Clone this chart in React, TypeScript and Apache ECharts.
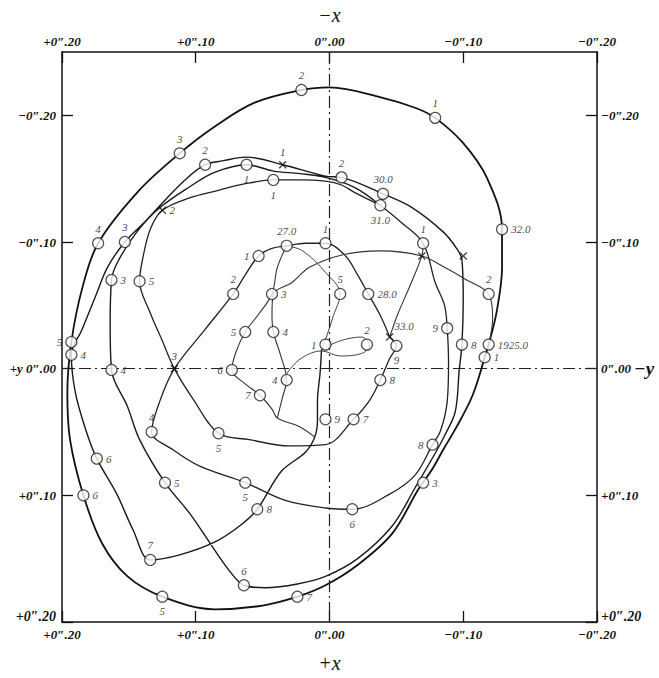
import React, { useEffect, useRef } from 'react';
import * as echarts from 'echarts';

// All path values in thousandths of a second of arc: [x, y]
const outerLoop = [
  [-116, -9], [-119, -19], [-125, -45], [-129, -80], [-129, -110], [-118, -150], [-100, -178], [-79, -198],
  [-64, -206], [-39, -214], [0, -222], [21, -220], [56, -210], [86, -191], [112, -170], [143, -140],
  [173, -99], [185, -63], [193, -21], [196, 19], [194, 56], [184, 100], [170, 138], [151, 164],
  [125, 180], [86, 190], [50, 187], [24, 180], [3, 171], [-21, 155], [-47, 130], [-66, 96],
  [-77, 79], [-85, 64], [-95, 46], [-107, 21], [-116, -9],
];

const secondLoop = [
  [-38, -129], [-19, -143], [3, -151], [22, -154], [42, -156], [62, -161], [86, -155], [104, -144],
  [127, -127], [144, -108], [158, -85], [163, -70], [164, -34], [163, 1], [151, 30], [142, 56],
  [123, 90], [104, 115], [86, 143], [73, 162], [64, 171], [48, 173], [24, 170], [3, 164],
  [-21, 150], [-47, 124], [-64, 94], [-80, 65], [-86, 53], [-94, 34], [-97, 1], [-99, -19],
  [-100, -55], [-99, -86], [-95, -95], [-85, -108], [-62, -127], [-40, -138], [-9, -151], [3, -152],
  [35, -161], [62, -167], [80, -164], [93, -161], [108, -149], [123, -133], [138, -116], [153, -100],
  [166, -80], [175, -57], [185, -31], [193, -11], [190, 19], [182, 49], [174, 71], [159, 99],
  [147, 127], [134, 151], [112, 147], [86, 137], [67, 124], [54, 111], [36, 81], [18, 66],
  [11, 54], [9, 41], [9, 26], [7, 3], [6, -15],
];

const thirdLoop = [
  [-38, -129], [-19, -139], [-9, -145], [3, -148], [22, -149], [42, -149], [63, -146], [86, -140],
  [104, -135], [125, -125], [134, -110], [140, -85], [142, -69], [134, -44], [125, -22], [116, 0],
  [102, 24], [83, 51], [60, 56], [30, 61], [3, 60], [-18, 40], [-30, 25], [-38, 9],
  [-45, -8], [-50, -18], [-45, -25],
];

const innerLoop = [
  [-38, -129], [-53, -116], [-70, -99], [-79, -68], [-86, -50], [-88, -32], [-89, -4], [-88, 26],
  [-83, 49], [-77, 60], [-64, 84], [-45, 99], [-17, 111], [3, 110], [33, 104], [63, 90],
  [97, 77], [117, 64], [133, 50], [127, 26], [116, 0], [93, -31], [72, -59], [63, -74],
  [53, -89], [43, -95], [32, -97], [18, -99], [3, -99], [-12, -89], [-21, -74], [-29, -59],
  [-38, -42], [-45, -25],
];

const crossArc = [
  [-119, -19], [-122, -40], [-119, -59], [-101, -71], [-86, -80], [-69, -89], [-38, -93], [-10, -90],
  [15, -80], [28, -68], [42, -59], [43, -43], [42, -29], [37, -12], [32, 9], [35, 22], [39, 39],
];

const linkTo33 = [[-70, -99], [-69, -89], [-60, -65], [-51, -43], [-45, -25]];

const centreLoop = [
  [32, -97], [20, -93], [3, -76], [-8, -59], [-3, -42], [3, -23], [6, -15], [-8, -22],
  [-24, -25], [-30, -18], [-24, -12], [-8, -10], [6, -14], [20, -9], [30, 1], [35, 11],
];

const leftInnerLoop = [
  [32, -97], [39, -80], [43, -59], [53, -43], [63, -29], [70, -13], [73, 1], [63, 12],
  [52, 21], [43, 32], [39, 39], [22, 46], [11, 54],
];

// Ringed epoch points, with their tenth-of-year / year labels
const ringPoints = [
  [-129, -110], [-79, -198], [21, -220], [112, -170], [173, -99], [193, -21], [193, -11], [184, 100],
  [125, 180], [24, 180], [174, 71], [134, 151], [64, 171], [123, 90], [163, 1], [163, -70],
  [142, -69], [153, -100], [93, -161], [62, -161], [42, -149], [-9, -151], [-40, -138], [-38, -129],
  [133, 50], [83, 51], [53, -89], [32, -97], [3, -99], [72, -59], [43, -59], [63, -29],
  [42, -29], [73, 1], [52, 21], [32, 9], [-8, -59], [-29, -59], [63, 90], [54, 111],
  [-17, 111], [3, 40], [-18, 40], [-38, 9], [-50, -18], [-88, -32], [-99, -19], [-119, -19],
  [-116, -9], [-119, -59], [-77, 60], [-70, 90], [3, -19], [-28, -19], [-70, -99],
];
const ringLabels = [
  '32.0', '1', '2', '3', '4', '5', '4', '6',
  '5', '7', '6', '7', '6', '5', '4', '3',
  '5', '3', '2', '1', '1', '2', '30.0', '31.0',
  '4', '5', '1', '27.0', '1', '2', '3', '5',
  '4', '6', '7', '4', '5', '28.0', '5', '8',
  '6', '9', '7', '8', '9', '9', '8', '1925.0',
  '1', '2', '8', '3', '1', '2', '1',
];
const ringLabelSide = [
  'right', 'top', 'top', 'top', 'top', 'left', 'right', 'right',
  'bottom', 'right', 'right', 'top', 'top', 'right', 'right', 'right',
  'right', 'top', 'top', 'bottom', 'bottom', 'top', 'top', 'bottom',
  'top', 'bottom', 'left', 'top', 'top', 'top', 'right', 'left',
  'right', 'left', 'left', 'left', 'top', 'right', 'bottom', 'right',
  'bottom', 'right', 'right', 'right', 'bottom', 'left', 'right', 'right',
  'right', 'top', 'left', 'right', 'left', 'top', 'top',
];

// Epochs marked by a cross stroke only
const crossPoints = [[35, -161], [116, 0], [125, -125], [-69, -89], [-100, -89], [-45, -25]];
const crossLabels = ['1', '3', '2', '', '', '33.0'];
const crossLabelSide = ['top', 'top', 'right', 'top', 'top', 'insideBottomLeft'];

// Axis ticks
const xTicks = [0.2, 0.1, 0, -0.1, -0.2];
const xTickLabels = ['+0″.20', '+0″.10', '0″.00', '−0″.10', '−0″.20'];
const yTicks = [-0.2, -0.1, 0, 0.1, 0.2];
const yLeftLabels = ['−0″.20', '−0″.10', '+y 0″.00', '+0″.10', '{c|+0″.20}'];
const yRightLabels = ['−0″.20', '−0″.10', '0″.00 {b|−y}', '+0″.10', '{c|+0″.20}'];

const SERIF = '"Liberation Serif", "DejaVu Serif", serif';
const toArc = (arr: number[][]) => arr.map(([x, y]) => [x / 1000, y / 1000]);
const pick = (ticks: number[], labels: string[]) => (v: number) => {
  const i = ticks.findIndex((t) => Math.abs(t - v) < 1e-6);
  return i >= 0 ? labels[i] : '';
};

const labelFont = {
  fontFamily: SERIF,
  fontStyle: 'italic' as const,
  fontSize: 13,
  color: '#111',
  fontWeight: 'bold' as const,
};
const richAxis = {
  b: { fontFamily: SERIF, fontStyle: 'italic', fontWeight: 'bold', fontSize: 19, color: '#111' },
  c: { fontFamily: SERIF, fontStyle: 'italic', fontWeight: 'bold', fontSize: 14, color: '#111', padding: [0, 0, 12, 0] },
};

export default function App() {
  const ref = useRef<HTMLDivElement>(null);
  useEffect(() => {
    if (!ref.current) return;
    const chart = echarts.init(ref.current, undefined, { renderer: 'svg' });
    const paths = [
      { data: outerLoop, width: 1.8, color: '#111' },
      { data: secondLoop, width: 1.4, color: '#1a1a1a' },
      { data: thirdLoop, width: 1.3, color: '#222' },
      { data: innerLoop, width: 1.3, color: '#222' },
      { data: crossArc, width: 1.1, color: '#333' },
      { data: linkTo33, width: 1.1, color: '#333' },
      { data: centreLoop, width: 1, color: '#444' },
      { data: leftInnerLoop, width: 1.1, color: '#333' },
    ];
    const lineSeries: any[] = paths.map((p, i) => ({
      type: 'line',
      data: toArc(p.data),
      smooth: 0.35,
      showSymbol: false,
      symbol: 'none',
      lineStyle: { width: p.width, color: p.color },
      z: 3,
      ...(i === 0
        ? {
            markLine: {
              silent: true,
              symbol: 'none',
              label: { show: false },
              lineStyle: { color: '#222', width: 1.2, type: [12, 4, 2, 4] },
              data: [{ xAxis: 0 }, { yAxis: 0 }],
            },
          }
        : {}),
    }));

    const pointLabel = {
      show: true,
      fontFamily: SERIF,
      fontStyle: 'italic',
      fontSize: 11,
      color: '#111',
      distance: 3,
    };

    const axisCommon = {
      axisLine: { show: true, onZero: false, lineStyle: { color: '#111', width: 1.5 } },
      splitLine: { show: false },
    };

    const option: any = {
      animation: false,
      backgroundColor: '#fff',
      grid: { left: 62, right: 62, top: 45, bottom: 38, containLabel: false },
      xAxis: [
        {
          type: 'value', position: 'top', min: -0.2, max: 0.2, inverse: true,
          name: '−x', nameLocation: 'middle', nameGap: 27,
          nameTextStyle: { fontFamily: SERIF, fontStyle: 'italic', fontSize: 20, color: '#111' },
          ...axisCommon,
          axisTick: { show: true, inside: true, length: 11, customValues: xTicks, lineStyle: { color: '#111', width: 1.3 } },
          axisLabel: { customValues: xTicks, formatter: pick(xTicks, xTickLabels), margin: 4, ...labelFont },
        },
        {
          type: 'value', position: 'bottom', min: -0.2, max: 0.2, inverse: true,
          name: '+x', nameLocation: 'middle', nameGap: 31,
          nameTextStyle: { fontFamily: SERIF, fontStyle: 'italic', fontSize: 20, color: '#111' },
          ...axisCommon,
          axisTick: { show: true, inside: true, length: 11, customValues: xTicks, lineStyle: { color: '#111', width: 1.3 } },
          axisLabel: { customValues: xTicks, formatter: pick(xTicks, xTickLabels), margin: 6, ...labelFont },
        },
      ],
      yAxis: [
        {
          type: 'value', position: 'left', min: -0.25, max: 0.2, inverse: true,
          ...axisCommon,
          axisTick: { show: true, inside: true, length: 11, customValues: yTicks, lineStyle: { color: '#111', width: 1.3 } },
          axisLabel: { customValues: yTicks, formatter: pick(yTicks, yLeftLabels), margin: 6, ...labelFont, rich: richAxis },
        },
        {
          type: 'value', position: 'right', min: -0.25, max: 0.2, inverse: true,
          ...axisCommon,
          axisTick: { show: true, inside: true, length: 11, customValues: yTicks, lineStyle: { color: '#111', width: 1.3 } },
          axisLabel: { customValues: yTicks, formatter: pick(yTicks, yRightLabels), margin: 4, ...labelFont, rich: richAxis },
        },
      ],
      series: [
        ...lineSeries,
        {
          type: 'scatter',
          symbol: 'circle',
          symbolSize: 11,
          z: 5,
          itemStyle: { color: '#fff', borderColor: '#222', borderWidth: 1.2 },
          label: pointLabel,
          data: ringPoints.map(([x, y], i) => ({
            value: [x / 1000, y / 1000],
            label: { ...pointLabel, formatter: ringLabels[i], position: ringLabelSide[i] },
          })),
        },
        {
          type: 'scatter',
          symbol: 'path://M0,0L10,10M10,0L0,10',
          symbolSize: 7,
          z: 5,
          itemStyle: { color: 'rgba(0,0,0,0)', borderColor: '#111', borderWidth: 1.3 },
          label: pointLabel,
          data: crossPoints.map(([x, y], i) => ({
            value: [x / 1000, y / 1000],
            label: {
              ...pointLabel,
              formatter: crossLabels[i],
              position: crossLabelSide[i] === 'insideBottomLeft' ? [9, -12] : crossLabelSide[i],
            },
          })),
        },
      ],
    };
    chart.setOption(option);
    return () => chart.dispose();
  }, []);
  return (
    <div
      ref={ref}
      style={{ position: 'absolute', left: 0, top: 0, width: 659, height: 678, background: '#fff' }}
    />
  );
}
